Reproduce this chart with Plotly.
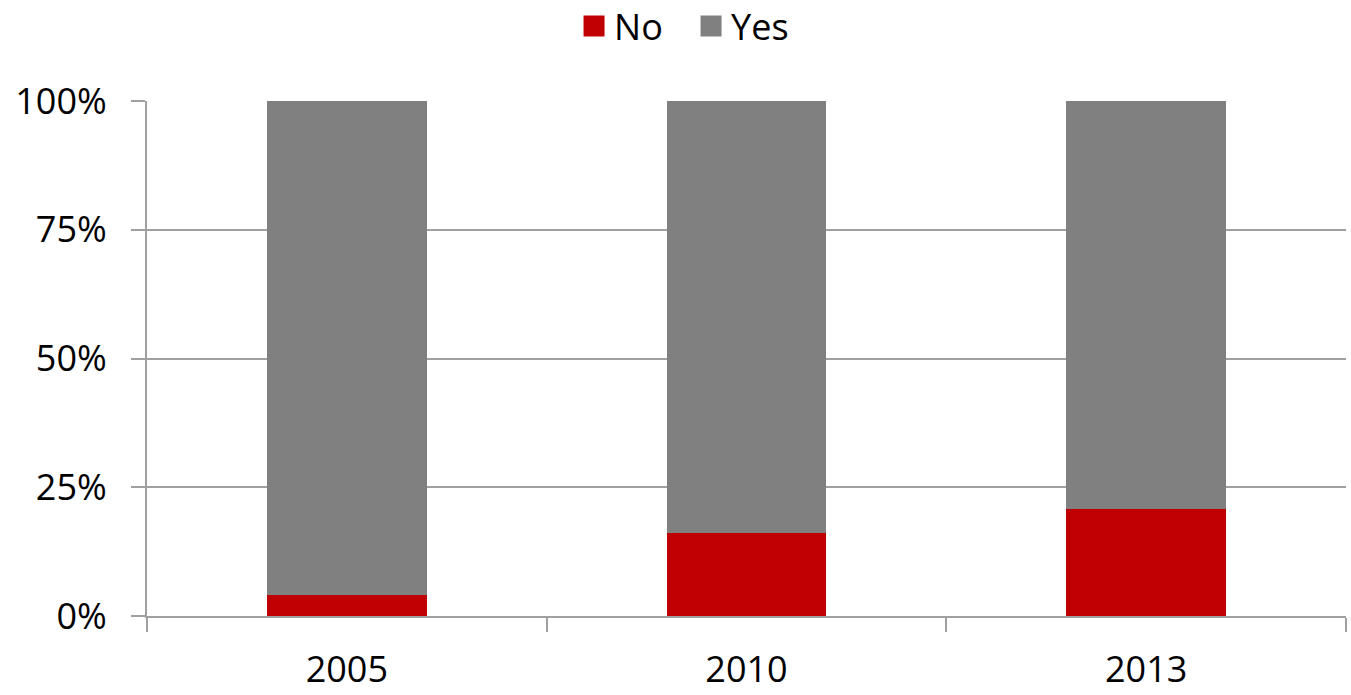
import plotly.graph_objects as go

years = ["2005", "2010", "2013"]
no_vals = [4.1, 16.1, 20.8]
yes_vals = [95.9, 83.9, 79.2]
tick_vals = [0, 25, 50, 75, 100]
tick_text = ["0%", "25%", "50%", "75%", "100%"]
series_names = ["No", "Yes"]
series_colors = ["#C00000", "#808080"]

fig = go.Figure()
for name, vals, col in zip(series_names, [no_vals, yes_vals], series_colors):
    fig.add_trace(go.Bar(name=name, x=years, y=vals, showlegend=False,
                         marker=dict(color=col, line=dict(width=0))))
# legend-only entries with larger square swatches
for name, col in zip(series_names, series_colors):
    fig.add_trace(go.Scatter(name=name, x=[None], y=[None], mode="markers",
                             marker=dict(symbol="square", size=16, color=col,
                                         line=dict(width=5, color=col))))

fig.update_layout(
    barmode="stack",
    bargap=0.6,
    width=1351, height=695,
    margin=dict(l=147, r=5, t=101, b=79, autoexpand=False),
    plot_bgcolor="white", paper_bgcolor="white",
    font=dict(family="Open Sans", size=36, color="black"),
    legend=dict(orientation="h", xref="container", yref="container", x=0.5115, y=0.9626,
                xanchor="center", yanchor="middle", font=dict(size=36),
                itemsizing="trace", traceorder="normal", itemwidth=30,
                entrywidth=72, entrywidthmode="pixels"),
    xaxis=dict(type="category", showline=True, linecolor="#A0A0A0", linewidth=2,
               ticks="outside", tickson="boundaries", ticklen=14, tickwidth=2, tickcolor="#A0A0A0",
               showgrid=False, automargin=False, ticklabelstandoff=21),
    yaxis=dict(range=[0, 100], tickvals=tick_vals, ticktext=tick_text,
               showline=True, linecolor="#A0A0A0", linewidth=2,
               ticks="outside", ticklen=14, tickwidth=2, tickcolor="#A0A0A0",
               showgrid=True, gridcolor="#A0A0A0", gridwidth=2, zeroline=False,
               automargin=False, ticklabelstandoff=17),
)
fig.write_html("out.html", config={"displayModeBar": False},
               post_script="document.body.style.margin='0px';document.body.style.overflow='hidden';")
